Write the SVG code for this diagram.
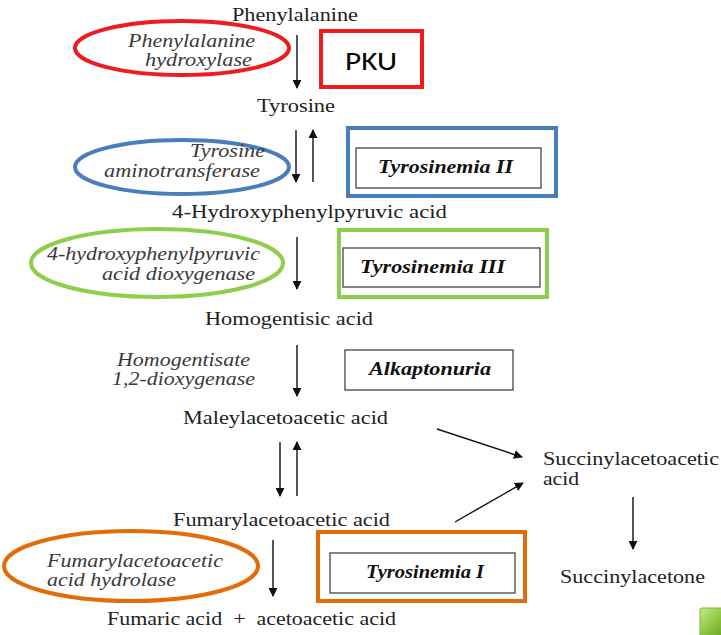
<svg xmlns="http://www.w3.org/2000/svg" width="721" height="635" viewBox="0 0 721 635" font-family="Liberation Serif, Tinos, Times New Roman, DejaVu Serif, serif">
  <style>
    .met { font-size: 18px; fill: #222; }
    .enz { font-size: 18px; font-style: italic; fill: #3a3a3a; }
    .dis { font-size: 18px; font-style: italic; font-weight: bold; fill: #111; }
    .inner { fill: #fff; stroke: #444; stroke-width: 1.3; }
    .arrow { stroke: #111; stroke-width: 1.4; fill: none; marker-end: url(#head); }
    .oval { fill: none; stroke-width: 4; }
    .frame { fill: none; stroke-width: 4; }
  </style>
  <defs>
    <marker id="head" viewBox="0 0 10 10" refX="9" refY="5" markerWidth="9" markerHeight="9" markerUnits="userSpaceOnUse" orient="auto">
      <path d="M0,0 L10,5 L0,10 z" fill="#111"/>
    </marker>
    <linearGradient id="btn" x1="0" y1="0" x2="1" y2="1">
      <stop offset="0" stop-color="#c8e88a"/>
      <stop offset="0.5" stop-color="#8cc63f"/>
      <stop offset="1" stop-color="#5c9a1f"/>
    </linearGradient>
  </defs>
  <rect width="721" height="635" fill="#fff"/>

  <!-- metabolites -->
  <g id="phenylalanine"><text class="met" x="232" y="21" textLength="126" lengthAdjust="spacingAndGlyphs">Phenylalanine</text></g>
  <g id="tyrosine"><text class="met" x="257" y="112" textLength="78" lengthAdjust="spacingAndGlyphs">Tyrosine</text></g>
  <g id="hppa"><text class="met" x="172" y="218" textLength="275" lengthAdjust="spacingAndGlyphs">4-Hydroxyphenylpyruvic acid</text></g>
  <g id="homogentisic"><text class="met" x="205" y="325" textLength="168" lengthAdjust="spacingAndGlyphs">Homogentisic acid</text></g>
  <g id="maleylacetoacetic"><text class="met" x="183" y="424" textLength="205" lengthAdjust="spacingAndGlyphs">Maleylacetoacetic acid</text></g>
  <g id="fumarylacetoacetic"><text class="met" x="173" y="526" textLength="217" lengthAdjust="spacingAndGlyphs">Fumarylacetoacetic acid</text></g>
  <g id="fumaric"><text class="met" x="107" y="625" textLength="289" lengthAdjust="spacingAndGlyphs" xml:space="preserve">Fumaric acid  +  acetoacetic acid</text></g>
  <g id="succinylacetoacetic">
    <text class="met" x="543" y="465" textLength="176" lengthAdjust="spacingAndGlyphs">Succinylacetoacetic</text>
    <text class="met" x="543" y="485" textLength="36" lengthAdjust="spacingAndGlyphs">acid</text>
  </g>
  <g id="succinylacetone"><text class="met" x="560" y="583" textLength="145" lengthAdjust="spacingAndGlyphs">Succinylacetone</text></g>

  <!-- enzymes -->
  <g id="enz-pah">
    <ellipse class="oval" cx="182" cy="48" rx="107" ry="27" stroke="#ee1c1c"/>
    <text class="enz" x="128" y="47" textLength="127" lengthAdjust="spacingAndGlyphs">Phenylalanine</text>
    <text class="enz" x="145" y="66" textLength="107" lengthAdjust="spacingAndGlyphs">hydroxylase</text>
  </g>
  <g id="enz-tat">
    <ellipse class="oval" cx="182" cy="167" rx="107" ry="27" stroke="#4a7ebb"/>
    <text class="enz" x="190" y="157" textLength="75" lengthAdjust="spacingAndGlyphs">Tyrosine</text>
    <text class="enz" x="104" y="177" textLength="156" lengthAdjust="spacingAndGlyphs">aminotransferase</text>
  </g>
  <g id="enz-hppd">
    <ellipse class="oval" cx="157" cy="263" rx="126" ry="34" stroke="#8dcf4a"/>
    <text class="enz" x="47" y="260" textLength="213" lengthAdjust="spacingAndGlyphs">4-hydroxyphenylpyruvic</text>
    <text class="enz" x="102" y="280" textLength="153" lengthAdjust="spacingAndGlyphs">acid dioxygenase</text>
  </g>
  <g id="enz-hgd">
    <text class="enz" x="117" y="366" textLength="133" lengthAdjust="spacingAndGlyphs">Homogentisate</text>
    <text class="enz" x="112" y="385" textLength="143" lengthAdjust="spacingAndGlyphs">1,2-dioxygenase</text>
  </g>
  <g id="enz-fah">
    <ellipse class="oval" cx="131" cy="566" rx="127" ry="35" stroke="#e36c0a"/>
    <text class="enz" x="47" y="567" textLength="176" lengthAdjust="spacingAndGlyphs">Fumarylacetoacetic</text>
    <text class="enz" x="47" y="586" textLength="129" lengthAdjust="spacingAndGlyphs">acid hydrolase</text>
  </g>

  <!-- disorders -->
  <g id="dis-pku">
    <rect class="frame" x="321" y="31" width="101" height="56" stroke="#ee1c1c"/>
    <text x="345" y="70" textLength="52" lengthAdjust="spacingAndGlyphs" font-family="Carlito, Open Sans, Liberation Sans, sans-serif" font-size="27" fill="#000">PKU</text>
  </g>
  <g id="dis-tyr2">
    <rect class="frame" x="348" y="128" width="208" height="68" stroke="#4a7ebb"/>
    <rect class="inner" x="356" y="148" width="185" height="40"/>
    <text class="dis" x="378" y="173" textLength="135" lengthAdjust="spacingAndGlyphs">Tyrosinemia II</text>
  </g>
  <g id="dis-tyr3">
    <rect class="frame" x="339" y="230" width="208" height="67" stroke="#8dcf4a"/>
    <rect class="inner" x="343" y="248" width="197" height="39"/>
    <text class="dis" x="360" y="273" textLength="145" lengthAdjust="spacingAndGlyphs">Tyrosinemia III</text>
  </g>
  <g id="dis-alk">
    <rect class="inner" x="345" y="350" width="168" height="40"/>
    <text class="dis" x="369" y="375" textLength="122" lengthAdjust="spacingAndGlyphs">Alkaptonuria</text>
  </g>
  <g id="dis-tyr1">
    <rect class="frame" x="318" y="532" width="207" height="69" stroke="#e36c0a"/>
    <rect class="inner" x="330" y="553" width="185" height="40"/>
    <text class="dis" x="366" y="578" textLength="118" lengthAdjust="spacingAndGlyphs">Tyrosinemia I</text>
  </g>

  <!-- connectors -->
  <g id="connectors">
    <line class="arrow" x1="297" y1="35" x2="297" y2="88"/>
    <line class="arrow" x1="296" y1="130" x2="296" y2="182"/>
    <line class="arrow" x1="313" y1="182" x2="313" y2="130"/>
    <line class="arrow" x1="297" y1="237" x2="297" y2="289"/>
    <line class="arrow" x1="297" y1="345" x2="297" y2="396"/>
    <line class="arrow" x1="280" y1="442" x2="280" y2="496"/>
    <line class="arrow" x1="297" y1="496" x2="297" y2="442"/>
    <line class="arrow" x1="273" y1="540" x2="273" y2="596"/>
    <line class="arrow" x1="437" y1="429" x2="522" y2="457"/>
    <line class="arrow" x1="455" y1="522" x2="523" y2="483"/>
    <line class="arrow" x1="633" y1="497" x2="633" y2="549"/>
  </g>

  <!-- navigation button -->
  <rect x="700" y="608" width="30" height="30" rx="2" fill="url(#btn)" stroke="#7cb342" stroke-width="1"/>
</svg>
